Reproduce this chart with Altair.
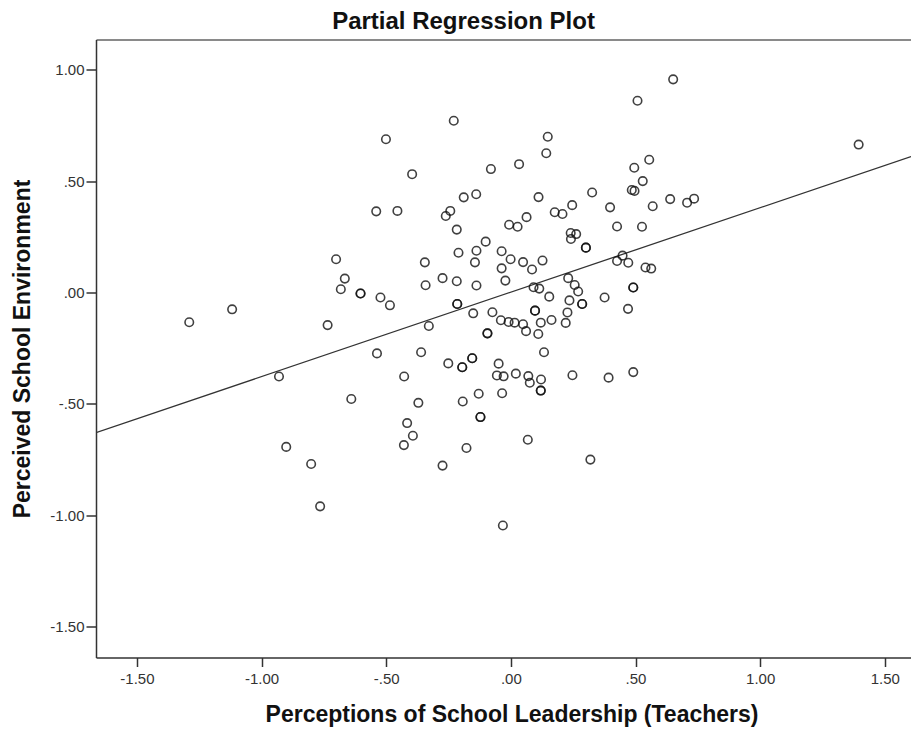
import altair as alt
import pandas as pd

# Partial regression residuals (x = leadership, y = school environment)
x_vals = [
    -0.501, -0.540, -0.455, -0.701, -0.666, -0.682, -0.603, -0.523, -1.290, -1.118,
    -0.735, -0.485, -0.537, -0.930, -0.640, -0.901, -0.801, -0.765, -0.428, -0.371,
    -0.416, -0.393, -0.429, -0.274, -0.251, -0.229, -0.396, -0.261, -0.243, -0.345,
    -0.274, -0.342, -0.329, -0.360, 0.508, 0.148, 0.142, -0.080, 0.033, 0.495,
    -0.189, -0.139, 0.111, 0.326, 0.485, 0.496, -0.217, 0.246, 0.176, 0.207,
    0.398, 0.426, 0.063, -0.007, 0.027, 0.240, 0.262, 0.241, 0.301, -0.101,
    -0.210, -0.138, -0.144, -0.037, -0.001, -0.037, 0.049, 0.085, 0.127, -0.022,
    -0.217, -0.138, 0.091, 0.114, 0.230, 0.256, 0.270, 0.426, 0.448, 0.471,
    0.491, 0.651, 1.395, 0.555, 0.529, 0.569, 0.639, 0.707, 0.735, 0.526,
    0.540, 0.563, 0.154, -0.215, -0.151, -0.074, -0.040, -0.009, 0.015, 0.049,
    0.061, 0.097, 0.120, 0.163, 0.110, 0.220, 0.227, 0.235, 0.286, 0.376,
    0.470, -0.094, 0.133, -0.195, -0.155, -0.049, -0.056, -0.029, 0.020, 0.070,
    0.076, 0.121, 0.120, 0.247, 0.392, 0.491, -0.129, -0.035, -0.193, -0.122,
    -0.178, 0.068, 0.319, -0.032,
    # overlapping cases
    -0.603, 0.301, 0.491, -0.215, 0.097, 0.286, -0.094, -0.195, -0.155, 0.120, -0.122,
]
y_vals = [
    0.689, 0.365, 0.367, 0.150, 0.063, 0.015, -0.004, -0.022, -0.133, -0.075,
    -0.146, -0.057, -0.273, -0.377, -0.478, -0.693, -0.770, -0.960, -0.377, -0.495,
    -0.586, -0.643, -0.685, -0.777, -0.318, 0.772, 0.532, 0.344, 0.367, 0.136,
    0.065, 0.033, -0.150, -0.268, 0.862, 0.700, 0.626, 0.555, 0.577, 0.561,
    0.428, 0.442, 0.429, 0.450, 0.461, 0.457, 0.283, 0.393, 0.361, 0.353,
    0.383, 0.297, 0.339, 0.305, 0.296, 0.268, 0.263, 0.241, 0.202, 0.229,
    0.179, 0.188, 0.136, 0.186, 0.150, 0.109, 0.137, 0.104, 0.144, 0.054,
    0.051, 0.032, 0.024, 0.018, 0.065, 0.034, 0.005, 0.142, 0.166, 0.134,
    0.023, 0.958, 0.665, 0.597, 0.501, 0.388, 0.420, 0.404, 0.422, 0.296,
    0.113, 0.108, -0.018, -0.051, -0.093, -0.088, -0.124, -0.132, -0.135, -0.142,
    -0.173, -0.081, -0.135, -0.123, -0.186, -0.136, -0.089, -0.035, -0.051, -0.022,
    -0.073, -0.183, -0.268, -0.335, -0.295, -0.319, -0.372, -0.376, -0.364, -0.375,
    -0.405, -0.390, -0.440, -0.371, -0.382, -0.357, -0.454, -0.452, -0.489, -0.559,
    -0.698, -0.661, -0.750, -1.046,
    # overlapping cases
    -0.004, 0.202, 0.023, -0.051, -0.081, -0.051, -0.183, -0.335, -0.295, -0.440, -0.559,
]

# Fit line end points (read at the plot edges)
fit_x = [-1.664, 1.605]
fit_y = [-0.629, 0.611]

x_ticks = [-1.5, -1.0, -0.5, 0.0, 0.5, 1.0, 1.5]
y_ticks = [-1.5, -1.0, -0.5, 0.0, 0.5, 1.0]
x_domain = [-1.664, 1.605]
y_domain = [-1.639, 1.137]

pts = pd.DataFrame({"x": x_vals, "y": y_vals})
fit = pd.DataFrame({"x": fit_x, "y": fit_y})

FONT = "Liberation Sans"
label_expr = "replace(replace(format(datum.value, '.2f'), '\u2212', '-'), '0.', '.')"

xscale = alt.Scale(domain=x_domain, nice=False, zero=False)
yscale = alt.Scale(domain=y_domain, nice=False, zero=False)

W, H = 815, 618

xaxis = alt.Axis(
    title="Perceptions of School Leadership (Teachers)",
    values=x_ticks, labelExpr=label_expr, grid=False,
    tickSize=9, labelPadding=5, labelFlush=False, labelOverlap=False,
    titleX=415.5, titleY=64, titleBaseline="alphabetic", titleAlign="center",
)
yaxis = alt.Axis(
    title="Perceived School Environment",
    values=y_ticks, labelExpr=label_expr, grid=False,
    tickSize=10, labelPadding=2, labelFlush=False, labelOverlap=False,
    titleX=-66.5, titleY=309, titleBaseline="alphabetic", titleAlign="center",
    titleAngle=270,
)
top_axis = alt.Axis(
    orient="top", labels=False, ticks=False, title=None, grid=False,
    domainColor="#8a8a8a", domainWidth=2, values=x_ticks,
)

points = alt.Chart(pts).mark_point(
    shape="circle", filled=False, size=72, color="#111111",
    strokeWidth=1.6, opacity=0.8,
).encode(
    x=alt.X("x:Q", scale=xscale, axis=xaxis),
    y=alt.Y("y:Q", scale=yscale, axis=yaxis),
)

line = alt.Chart(fit).mark_line(color="#333333", strokeWidth=1.3, clip=True).encode(
    x=alt.X("x:Q", scale=xscale, axis=top_axis),
    y=alt.Y("y:Q", scale=yscale, axis=yaxis),
)

chart = (
    alt.layer(line, points)
    .resolve_axis(x="independent")
    .properties(
        width=W, height=H,
        autosize=alt.AutoSizeParams(type="none"),
        padding={"left": 88, "top": 31.5, "right": 0, "bottom": 75},
        title=alt.TitleParams(
            "Partial Regression Plot", font=FONT, fontSize=24, fontWeight="bold",
            color="#111111", anchor="middle", frame="group", dx=-40, dy=24,
            baseline="alphabetic", offset=11,
        ),
    )
    .configure_view(stroke=None)
    .configure_axis(
        labelFont=FONT, labelFontSize=15, labelColor="#333333",
        titleFont=FONT, titleFontSize=23, titleFontWeight="bold", titleColor="#111111",
        domainColor="#333333", domainWidth=1.5, tickColor="#333333", tickWidth=1.5,
    )
)

chart.save("out.html", embed_options={"renderer": "svg", "actions": False})
